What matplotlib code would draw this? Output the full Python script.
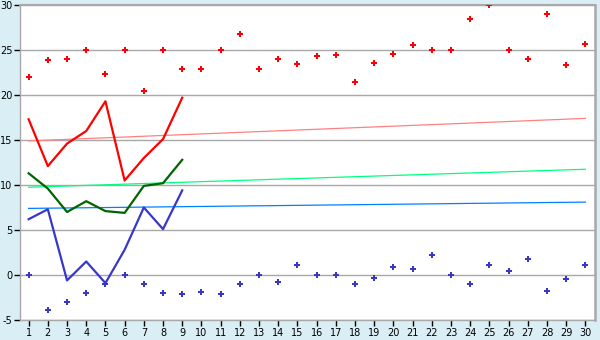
import matplotlib
matplotlib.use("Agg")
import matplotlib.pyplot as plt

plt.rcParams["axes.unicode_minus"] = False

categories = list(range(1, 31))

red_points = [22, 23.9, 24, 25, 22.3, 25, 20.4, 25, 22.9, 22.9,
              25, 26.8, 22.9, 24, 23.4, 24.3, 24.5, 21.5, 23.6, 24.6,
              25.6, 25, 25, 28.5, 30, 25, 24, 29, 23.3, 25.7]
blue_points = [0, -3.9, -3, -2, -1, 0, -1, -2, -2.1, -1.9,
               -2.1, -1, 0, -0.8, 1.1, 0, 0, -1, -0.3, 0.9,
               0.7, 2.2, 0, -1, 1.1, 0.4, 1.8, -1.8, -0.4, 1.1]

line_x = list(range(1, 10))
red_line = [17.3, 12.1, 14.6, 16.0, 19.3, 10.5, 13.0, 15.1, 19.7]
green_line = [11.3, 9.6, 7.0, 8.2, 7.1, 6.9, 9.9, 10.2, 12.8]
blue_line = [6.2, 7.3, -0.6, 1.5, -0.9, 2.8, 7.5, 5.1, 9.4]

trend_x = [1, 30]
red_trend = [14.9, 17.4]
green_trend = [9.75, 11.75]
blue_trend = [7.4, 8.1]

y_ticks = [-5, 0, 5, 10, 15, 20, 25, 30]

bg = "#D9EEF5"
grid_c = "#A8A8A8"

fig = plt.figure(figsize=(6, 3.4), dpi=100, facecolor=bg)
ax = fig.add_axes([20/600, 1-320/340, 575/600, 315/340])
ax.set_facecolor("white")

ax.set_xlim(0.55, 30.5)
ax.set_ylim(-5, 30)
ax.set_yticks(y_ticks)
ax.set_xticks(categories)
ax.set_xticklabels([str(c) for c in categories])
ax.yaxis.grid(True, color=grid_c, linewidth=1.0)
ax.set_axisbelow(True)

for s in ax.spines.values():
    s.set_color(grid_c)
ax.spines["left"].set_linewidth(1.0)
ax.spines["bottom"].set_linewidth(1.0)
ax.spines["top"].set_linewidth(1.5)
ax.spines["right"].set_linewidth(1.8)

ax.tick_params(axis="both", direction="out", length=4, width=1, color="black",
               labelsize=7, labelcolor="black", pad=1.5)

# trend lines
ax.plot(trend_x, red_trend, color="#FF8080", linewidth=0.9, zorder=2)
ax.plot(trend_x, green_trend, color="#00FF80", linewidth=0.9, zorder=2)
ax.plot(trend_x, blue_trend, color="#0080FF", linewidth=0.9, zorder=2)

# lines
ax.plot(line_x, red_line, color="#FF0000", linewidth=1.6, zorder=3)
ax.plot(line_x, green_line, color="#006400", linewidth=1.6, zorder=3)
ax.plot(line_x, blue_line, color="#3838C8", linewidth=1.6, zorder=3)

# points
ax.plot(categories, red_points, linestyle="none", marker="P", markersize=5,
        color="#FF0000", markeredgewidth=0, zorder=4)
ax.plot(categories, blue_points, linestyle="none", marker="P", markersize=5,
        color="#3838C8", markeredgewidth=0, zorder=4)

fig.savefig("out.png", dpi=100, facecolor=bg)
